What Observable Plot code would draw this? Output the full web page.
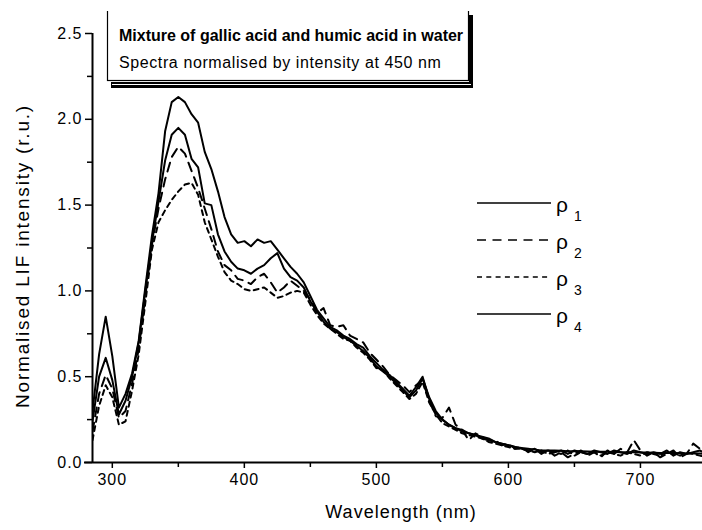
<!DOCTYPE html>
<html>
<head>
<meta charset="utf-8">
<script src="https://cdn.jsdelivr.net/npm/d3@7"></script>
<script src="https://cdn.jsdelivr.net/npm/@observablehq/plot@0.6"></script>
<style>
  body { margin: 0; background: #fff; }
  #chart { width: 702px; height: 530px; }
  svg { font-family: "Liberation Sans", Arial, sans-serif; }
</style>
</head>
<body>
<div id="chart"></div>
<script>
// ---------- data ----------
const wavelengths = [
  285, 290, 295, 300, 305, 310, 315, 320, 325, 330,
  335, 340, 345, 350, 355, 360, 365, 370, 375, 380,
  385, 390, 395, 400, 405, 410, 415, 420, 425, 430,
  435, 440, 445, 450, 455, 460, 465, 470, 475, 480,
  485, 490, 495, 500, 505, 510, 515, 520, 525, 530,
  535, 540, 545, 550, 555, 560, 565, 570, 575, 580,
  585, 590, 595, 600, 605, 610, 615, 620, 625, 630,
  635, 640, 645, 650, 655, 660, 665, 670, 675, 680,
  685, 690, 695, 700, 705, 710, 715, 720, 725, 730,
  735, 740, 745, 750
];
const rho1 = [
  0.30, 0.63, 0.85, 0.62, 0.32, 0.40, 0.52, 0.71, 1.02, 1.32,
  1.57, 1.93, 2.10, 2.13, 2.10, 2.03, 1.98, 1.81, 1.71, 1.58,
  1.43, 1.33, 1.28, 1.29, 1.26, 1.30, 1.28, 1.29, 1.24, 1.19,
  1.14, 1.10, 1.05, 0.97, 0.89, 0.84, 0.79, 0.77, 0.74, 0.72,
  0.69, 0.67, 0.62, 0.58, 0.54, 0.51, 0.47, 0.43, 0.39, 0.44,
  0.50, 0.37, 0.29, 0.25, 0.22, 0.20, 0.19, 0.17, 0.16, 0.15,
  0.14, 0.12, 0.11, 0.10, 0.09, 0.085, 0.08, 0.075, 0.07, 0.07,
  0.07, 0.068, 0.066, 0.065, 0.065, 0.064, 0.063, 0.062, 0.062, 0.061,
  0.06, 0.06, 0.06, 0.058, 0.058, 0.057, 0.056, 0.055, 0.055, 0.054,
  0.053, 0.052, 0.052, 0.05
];
const rho2 = [
  0.18, 0.40, 0.51, 0.43, 0.26, 0.30, 0.46, 0.66, 0.97, 1.27,
  1.48, 1.65, 1.78, 1.84, 1.80, 1.70, 1.60, 1.48, 1.36, 1.23,
  1.15, 1.12, 1.07, 1.06, 1.04, 1.08, 1.10, 1.05, 0.99, 1.02,
  1.06, 1.03, 1.00, 0.95, 0.87, 0.90, 0.80, 0.79, 0.80, 0.74,
  0.72, 0.70, 0.64, 0.60, 0.56, 0.51, 0.48, 0.45, 0.41, 0.45,
  0.48, 0.36, 0.27, 0.26, 0.32, 0.22, 0.19, 0.13, 0.17, 0.15,
  0.13, 0.13, 0.10, 0.11, 0.08, 0.09, 0.06, 0.08, 0.05, 0.07,
  0.04, 0.06, 0.03, 0.05, 0.07, 0.04, 0.06, 0.03, 0.07, 0.05,
  0.08, 0.06, 0.13, 0.07, 0.04, 0.06, 0.03, 0.05, 0.07, 0.03,
  0.05, 0.11, 0.08, 0.04
];
const rho3 = [
  0.13, 0.33, 0.45, 0.38, 0.22, 0.24, 0.42, 0.63, 0.93, 1.24,
  1.40, 1.47, 1.53, 1.58, 1.62, 1.63, 1.56, 1.40, 1.30, 1.20,
  1.11, 1.06, 1.04, 1.01, 1.00, 1.01, 1.02, 0.99, 0.96, 0.97,
  0.99, 1.00, 0.99, 0.92, 0.86, 0.81, 0.78, 0.75, 0.72, 0.71,
  0.67, 0.64, 0.60, 0.55, 0.54, 0.49, 0.45, 0.41, 0.37, 0.40,
  0.47, 0.35, 0.28, 0.23, 0.21, 0.19, 0.17, 0.16, 0.15, 0.14,
  0.12, 0.11, 0.10, 0.09, 0.08, 0.08, 0.07, 0.06, 0.07, 0.05,
  0.06, 0.05, 0.07, 0.04, 0.06, 0.05, 0.06, 0.04, 0.06, 0.05,
  0.04, 0.06, 0.05, 0.04, 0.06, 0.05, 0.04, 0.06, 0.05, 0.04,
  0.06, 0.05, 0.04, 0.03
];
const rho4 = [
  0.24, 0.50, 0.61, 0.48, 0.28, 0.36, 0.50, 0.70, 1.00, 1.28,
  1.52, 1.76, 1.91, 1.95, 1.91, 1.77, 1.72, 1.51, 1.50, 1.33,
  1.23, 1.17, 1.13, 1.12, 1.10, 1.13, 1.15, 1.19, 1.22, 1.13,
  1.08, 1.06, 1.02, 0.94, 0.88, 0.82, 0.78, 0.76, 0.73, 0.71,
  0.68, 0.65, 0.61, 0.56, 0.53, 0.50, 0.46, 0.42, 0.38, 0.42,
  0.49, 0.38, 0.30, 0.25, 0.22, 0.20, 0.18, 0.17, 0.16, 0.14,
  0.13, 0.12, 0.11, 0.10, 0.09, 0.08, 0.07, 0.08, 0.06, 0.07,
  0.06, 0.07, 0.05, 0.07, 0.06, 0.05, 0.07, 0.06, 0.05, 0.07,
  0.06, 0.05, 0.07, 0.06, 0.05, 0.06, 0.05, 0.07, 0.04, 0.06,
  0.05, 0.06, 0.07, 0.05
];
const seriesKeys = ["ρ1", "ρ2", "ρ3", "ρ4"];
const seriesSubscripts = ["1", "2", "3", "4"];

const titleText = "Mixture of gallic acid and humic acid in water";
const subtitleText = "Spectra normalised by intensity at 450 nm";
const xLabelText = "Wavelength (nm)";
const yLabelText = "Normalised LIF intensity (r.u.)";
const xMajorTicks = [300, 400, 500, 600, 700];
const xMinorTicks = [350, 450, 550, 650];
const yMajorTicks = [0, 0.5, 1.0, 1.5, 2.0, 2.5];
const yMinorTicks = [0.25, 0.75, 1.25, 1.75, 2.25];

// ---------- table built from arrays ----------
const seriesValues = [rho1, rho2, rho3, rho4];
const dashes = {"ρ1": null, "ρ2": "9,6.5", "ρ3": "5,4.3", "ρ4": null};
const table = seriesKeys.flatMap((k, si) =>
  wavelengths.map((w, i) => ({key: k, w, v: seriesValues[si][i]})));

const W = 702, H = 530;
const mL = 92, mR = 0, mT = 33, mB = 68;

const lineMarks = seriesKeys.map(k =>
  Plot.line(table.filter(d => d.key === k), {
    x: "w", y: "v", stroke: "#000", strokeWidth: 2,
    strokeDasharray: dashes[k], strokeLinejoin: "round", clip: true
  }));

const plot = Plot.plot({
  width: W, height: H,
  marginLeft: mL, marginRight: mR, marginTop: mT, marginBottom: mB,
  style: {fontFamily: "'Liberation Sans', Arial, sans-serif", background: "#fff", color: "#000", letterSpacing: "1px"},
  x: {domain: [285, 747]},
  y: {domain: [0, 2.5]},
  marks: [
    ...lineMarks,
    Plot.axisX(xMajorTicks, {tickSize: 6, tickPadding: 5, fontSize: 16, strokeWidth: 1.5, label: null, tickFormat: d => String(d)}),
    Plot.axisX(xMinorTicks, {tickSize: 5, strokeWidth: 1.5, text: null, label: null}),
    Plot.axisY(yMajorTicks, {tickSize: 7, tickPadding: 3, fontSize: 16, strokeWidth: 1.5, label: null, tickFormat: d3.format(".1f")}),
    Plot.axisY(yMinorTicks, {tickSize: 5, strokeWidth: 1.5, text: null, label: null}),
    Plot.ruleY([0], {strokeWidth: 2, insetLeft: -8}),
    Plot.ruleX([285], {strokeWidth: 2})
  ]
});

document.getElementById("chart").appendChild(plot);
const svg = d3.select(plot);

// axis labels
svg.append("text")
  .attr("x", 401).attr("y", 518)
  .attr("text-anchor", "middle").attr("font-size", 18)
  .style("letter-spacing", "1px")
  .text(xLabelText);
svg.append("text")
  .attr("transform", `translate(29,256) rotate(-90)`)
  .attr("text-anchor", "middle").attr("font-size", 19)
  .style("letter-spacing", "1.8px")
  .text(yLabelText);

// title box
const box = svg.append("g").attr("text-anchor", "start");
box.append("rect").attr("x", 111).attr("y", 82).attr("width", 362).attr("height", 6).attr("fill", "#000");
box.append("rect").attr("x", 469).attr("y", 15).attr("width", 4).attr("height", 73).attr("fill", "#000");
box.append("line").attr("x1", 112).attr("x2", 471).attr("y1", 84.5).attr("y2", 84.5).attr("stroke", "#fff").attr("stroke-width", 1);
box.append("rect").attr("x", 107.5).attr("y", 4).attr("width", 361).attr("height", 76.5)
  .attr("fill", "#fff").attr("stroke", "#000").attr("stroke-width", 1.2);
box.append("rect").attr("x", 106).attr("y", 0).attr("width", 364).attr("height", 11).attr("fill", "#fff");
box.append("text").attr("x", 119).attr("y", 41).attr("font-size", 16).attr("font-weight", "bold")
  .attr("text-anchor", "start").style("letter-spacing", "0px").text(titleText);
box.append("text").attr("x", 119).attr("y", 68).attr("font-size", 16)
  .attr("text-anchor", "start").style("letter-spacing", "0.6px").text(subtitleText);

// legend
const legendTop = 203, legendStep = 37;
const leg = svg.append("g").attr("text-anchor", "start");
seriesKeys.forEach((k, i) => {
  const y = legendTop + i * legendStep;
  leg.append("line").attr("x1", 477).attr("x2", 551).attr("y1", y).attr("y2", y)
    .attr("stroke", "#000").attr("stroke-width", 1.5)
    .attr("stroke-dasharray", dashes[k]);
  const t = leg.append("text").attr("x", 556).attr("y", y + 9).attr("font-size", 21)
    .attr("text-anchor", "start").style("letter-spacing", "0px");
  t.append("tspan").text(k.charAt(0));
  t.append("tspan").attr("dx", 6).attr("dy", 9).attr("font-size", 14).text(seriesSubscripts[i]);
});
</script>
</body>
</html>
